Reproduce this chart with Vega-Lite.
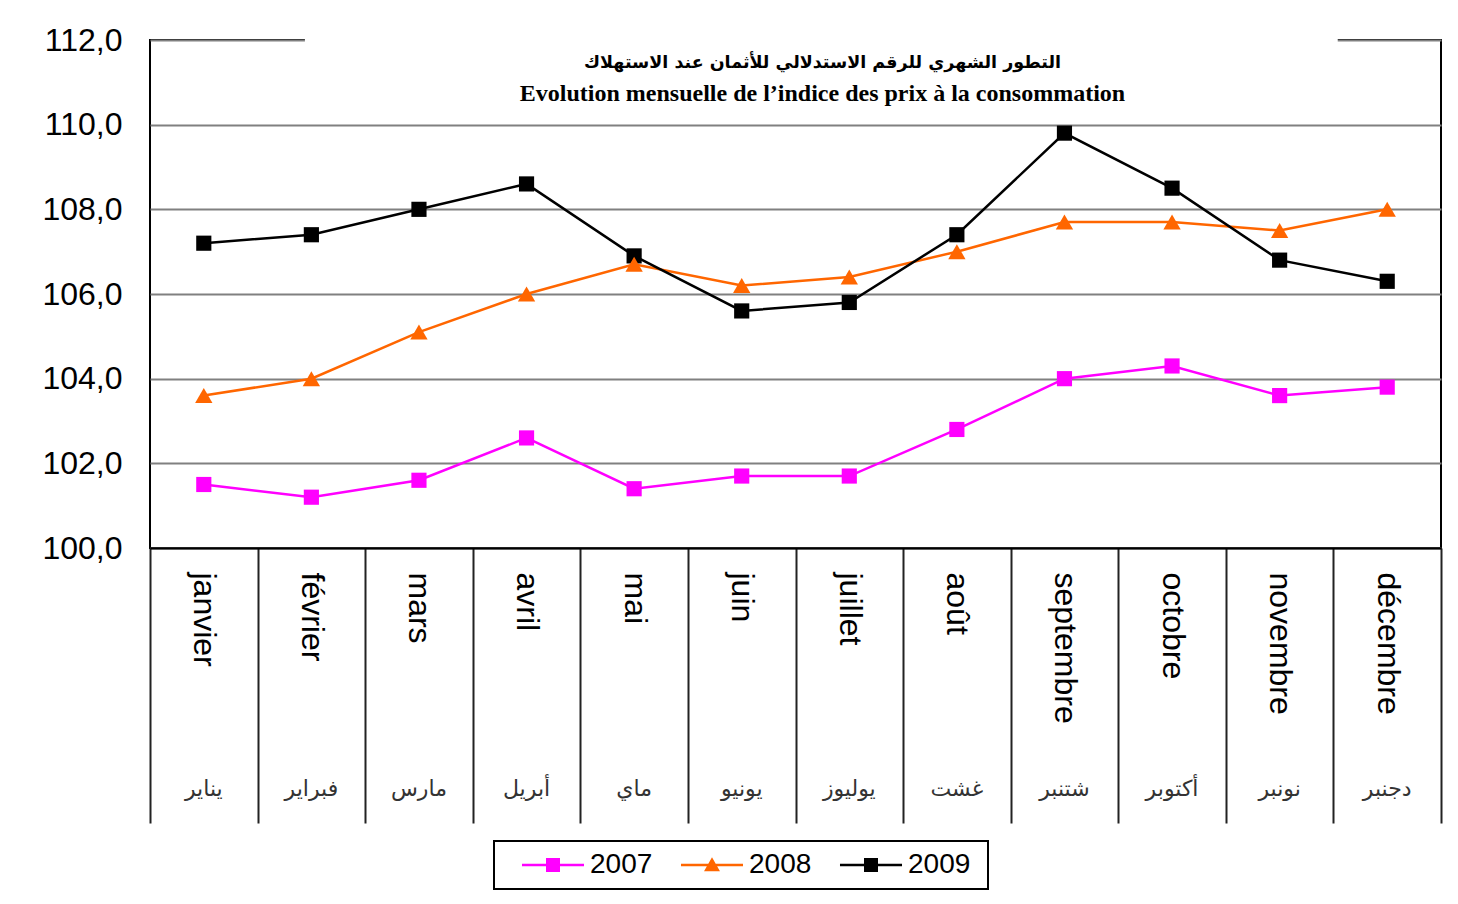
{
  "$schema": "https://vega.github.io/schema/vega-lite/v6.json",
  "width": 1291,
  "height": 508,
  "autosize": "none",
  "padding": {"left": 150, "top": 40, "right": 17, "bottom": 356},
  "background": "white",
  "config": {
    "view": {"stroke": "black", "strokeWidth": 2},
    "font": "Liberation Sans"
  },
  "title": {
    "text": "التطور الشهري للرقم الاستدلالي للأثمان عند الاستهلاك",
    "subtitle": "Evolution mensuelle de l’indice des prix à la consommation",
    "font": "DejaVu Sans",
    "fontSize": 17.5,
    "fontWeight": "bold",
    "color": "black",
    "subtitleFont": "Liberation Serif",
    "subtitleFontSize": 24,
    "subtitleFontWeight": "bold",
    "subtitleColor": "black",
    "subtitlePadding": 11,
    "anchor": "middle",
    "frame": "group",
    "dx": 27,
    "offset": -82
  },
  "data": {
    "values": [
      {"month": "janvier", "year": "2007", "value": 101.5},
      {"month": "février", "year": "2007", "value": 101.2},
      {"month": "mars", "year": "2007", "value": 101.6},
      {"month": "avril", "year": "2007", "value": 102.6},
      {"month": "mai", "year": "2007", "value": 101.4},
      {"month": "juin", "year": "2007", "value": 101.7},
      {"month": "juillet", "year": "2007", "value": 101.7},
      {"month": "août", "year": "2007", "value": 102.8},
      {"month": "septembre", "year": "2007", "value": 104.0},
      {"month": "octobre", "year": "2007", "value": 104.3},
      {"month": "novembre", "year": "2007", "value": 103.6},
      {"month": "décembre", "year": "2007", "value": 103.8},
      {"month": "janvier", "year": "2008", "value": 103.6},
      {"month": "février", "year": "2008", "value": 104.0},
      {"month": "mars", "year": "2008", "value": 105.1},
      {"month": "avril", "year": "2008", "value": 106.0},
      {"month": "mai", "year": "2008", "value": 106.7},
      {"month": "juin", "year": "2008", "value": 106.2},
      {"month": "juillet", "year": "2008", "value": 106.4},
      {"month": "août", "year": "2008", "value": 107.0},
      {"month": "septembre", "year": "2008", "value": 107.7},
      {"month": "octobre", "year": "2008", "value": 107.7},
      {"month": "novembre", "year": "2008", "value": 107.5},
      {"month": "décembre", "year": "2008", "value": 108.0},
      {"month": "janvier", "year": "2009", "value": 107.2},
      {"month": "février", "year": "2009", "value": 107.4},
      {"month": "mars", "year": "2009", "value": 108.0},
      {"month": "avril", "year": "2009", "value": 108.6},
      {"month": "mai", "year": "2009", "value": 106.9},
      {"month": "juin", "year": "2009", "value": 105.6},
      {"month": "juillet", "year": "2009", "value": 105.8},
      {"month": "août", "year": "2009", "value": 107.4},
      {"month": "septembre", "year": "2009", "value": 109.8},
      {"month": "octobre", "year": "2009", "value": 108.5},
      {"month": "novembre", "year": "2009", "value": 106.8},
      {"month": "décembre", "year": "2009", "value": 106.3}
    ]
  },
  "resolve": {"axis": {"x": "independent"}},
  "layer": [
    {
      "data": {"values": [{"k": 1}]},
      "mark": {"type": "rect", "color": "white", "opacity": 1},
      "encoding": {
        "x": {"datum": "février", "type": "nominal", "bandPosition": 0.44, "axis": null},
        "x2": {"datum": "décembre", "bandPosition": 0.04},
        "y": {"datum": 110.06, "type": "quantitative"},
        "y2": {"datum": 112.06}
      }
    },
    {
      "mark": {"type": "line", "strokeWidth": 2.5},
      "encoding": {
        "x": {
          "field": "month", "type": "nominal",
          "sort": ["janvier","février","mars","avril","mai","juin","juillet","août","septembre","octobre","novembre","décembre"],
          "scale": {"type": "band", "paddingInner": 0, "paddingOuter": 0, "domain": ["janvier","février","mars","avril","mai","juin","juillet","août","septembre","octobre","novembre","décembre"]},
          "axis": {
            "title": null,
            "orient": "bottom",
            "labelAngle": 90, "labelAlign": "left", "labelBaseline": "middle",
            "labelFontSize": 32, "labelColor": "black", "labelFont": "Liberation Sans",
            "labelPadding": -251,
            "tickBand": "extent", "tickSize": 275, "tickColor": "#222222", "tickWidth": 2,
            "domainColor": "black", "domainWidth": 2,
            "grid": false
          }
        },
        "y": {
          "field": "value", "type": "quantitative",
          "scale": {"domain": [100, 112], "nice": false, "zero": false},
          "axis": {
            "title": null,
            "values": [100, 102, 104, 106, 108, 110, 112],
            "labelExpr": "replace(format(datum.value, '.1f'), '.', ',')",
            "labelFontSize": 32, "labelColor": "black", "labelPadding": 28,
            "ticks": false, "domain": false,
            "grid": true, "gridColor": "#808080", "gridWidth": 2
          }
        },
        "color": {
          "field": "year", "type": "nominal",
          "scale": {"domain": ["2007","2008","2009"], "range": ["#FF00FF","#FF6600","#000000"]},
          "legend": {
            "title": "\u00a0",
            "titleOrient": "right",
            "titleFontSize": 10,
            "titlePadding": 8,
            "orient": "none",
            "legendX": 344,
            "legendY": 801,
            "direction": "horizontal",
            "columns": 3,
            "symbolSize": 196,
            "symbolType": "square",
            "symbolOffset": 35,
            "labelFontSize": 28,
            "labelColor": "black",
            "labelFont": "Liberation Sans",
            "labelOffset": 23,
            "columnPadding": 10,
            "padding": 10,
            "strokeColor": "black",
            "fillColor": "white",
            "encode": {
              "symbols": {
                "update": {
                  "shape": {"signal": "datum.value === '2008' ? 'M-4.43,-0.17H4.43V0.17H-4.43Z M0,-1.1L1.14,0.9H-1.14Z' : 'M-4.43,-0.17H4.43V0.17H-4.43Z M-1,-1H1V1H-1Z'"},
                  "fill": {"signal": "scale('color', datum.value)"},
                  "stroke": {"value": "transparent"},
                  "strokeWidth": {"value": 0},
                  "opacity": {"value": 1},
                  "fillOpacity": {"value": 1}
                }
              },
              "legend": {"update": {"strokeWidth": {"value": 2}}}
            }
          }
        },
        "detail": {"field": "year"}
      }
    },
    {
      "transform": [{"filter": "datum.year !== '2008'"}],
      "mark": {"type": "point", "filled": true, "opacity": 1, "size": 230, "shape": "square"},
      "encoding": {
        "x": {
          "field": "month", "type": "nominal",
          "sort": ["janvier","février","mars","avril","mai","juin","juillet","août","septembre","octobre","novembre","décembre"],
          "axis": {
            "title": null,
            "orient": "bottom",
            "labelExpr": "['يناير','فبراير','مارس','أبريل','ماي','يونيو','يوليوز','غشت','شتنبر','أكتوبر','نونبر','دجنبر'][indexof(['janvier','février','mars','avril','mai','juin','juillet','août','septembre','octobre','novembre','décembre'], datum.value)]",
            "labelAngle": 0, "labelAlign": "center", "labelBaseline": "middle",
            "labelFontSize": 22, "labelColor": "#333333", "labelFont": "DejaVu Sans",
            "labelPadding": 240,
            "ticks": false, "domain": false, "grid": false
          }
        },
        "y": {"field": "value", "type": "quantitative"},
        "color": {"field": "year", "type": "nominal"}
      }
    },
    {
      "transform": [{"filter": "datum.year === '2008'"}],
      "mark": {"type": "point", "filled": true, "opacity": 1, "size": 300, "shape": "triangle-up"},
      "encoding": {
        "x": {
          "field": "month", "type": "nominal",
          "sort": ["janvier","février","mars","avril","mai","juin","juillet","août","septembre","octobre","novembre","décembre"],
          "axis": null
        },
        "y": {"field": "value", "type": "quantitative"},
        "color": {"field": "year", "type": "nominal"}
      }
    }
  ]
}
